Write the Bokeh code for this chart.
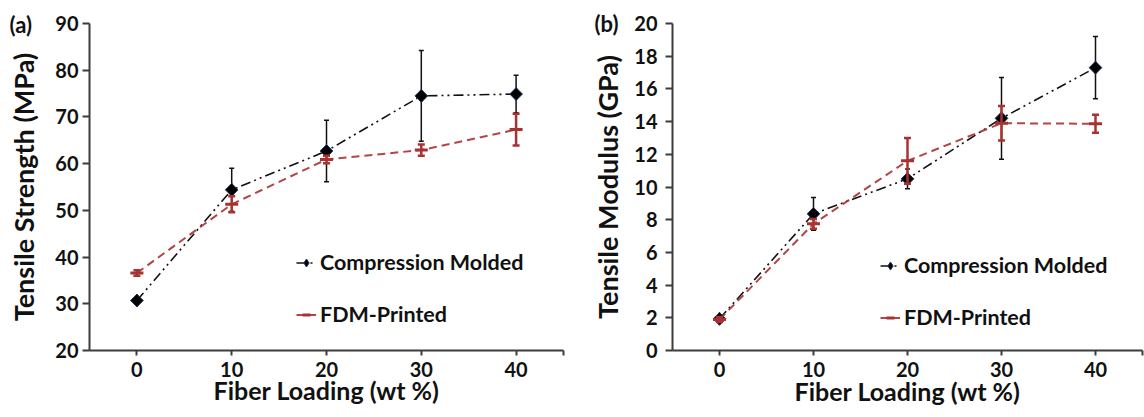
import numpy as np
from bokeh.plotting import figure
from bokeh.models import (Range1d, FixedTicker, ColumnDataSource, Legend, LegendItem, Title)
from bokeh.layouts import row
from bokeh.embed import file_html
from bokeh.resources import INLINE

# ---------------- data ----------------
fiber = [0, 10, 20, 30, 40]

cm_strength = [30.7, 54.4, 62.7, 74.5, 74.9]
cm_strength_err = [0.5, 4.6, 6.6, 9.7, 4.0]
fdm_strength = [36.6, 51.3, 60.9, 62.9, 67.3]
fdm_strength_err = [0.6, 1.7, 0.8, 1.2, 3.4]

cm_modulus = [1.94, 8.36, 10.5, 14.2, 17.3]
cm_modulus_err = [0.2, 1.0, 0.6, 2.5, 1.9]
fdm_modulus = [1.9, 7.75, 11.6, 13.9, 13.87]
fdm_modulus_err = [0.15, 0.3, 1.4, 1.05, 0.55]

x_ticks = [0, 10, 20, 30, 40, 45]
strength_ticks = [20, 30, 40, 50, 60, 70, 80, 90]
modulus_ticks = [0, 2, 4, 6, 8, 10, 12, 14, 16, 18, 20]

series_names = ["Compression Molded", "FDM-Printed"]
panel_tags = ["(a)", "(b)"]
y_titles = ["Tensile Strength (MPa)", "Tensile Modulus (GPa)"]
x_title = "Fiber Loading (wt %)"

FONT = "Lato"
TXT = "#111111"
AX = "#3c3c3c"
CM_COL = "#111111"
FDM_COL = "#A83232"


def make_panel(cm_y, cm_e, fdm_y, fdm_e, y_ticks, ytitle, tag, width,
               b_left, b_right, b_top, b_bottom, label_standoff, ytitle_standoff,
               xlabel_standoff, xtitle_standoff, tag_dx, tag_standoff, legend_loc):
    y_lo, y_hi = y_ticks[0], y_ticks[-1]
    p = figure(width=width, height=417, x_range=Range1d(-5, 45),
               y_range=Range1d(y_lo, y_hi), output_backend="svg",
               toolbar_location=None, min_border_left=b_left,
               min_border_right=b_right, min_border_top=b_top,
               min_border_bottom=b_bottom)
    p.outline_line_color = None
    p.xgrid.visible = False
    p.ygrid.visible = False
    p.background_fill_color = None
    p.border_fill_color = None

    for ax in (p.xaxis[0], p.yaxis[0]):
        ax.axis_line_color = AX
        ax.axis_line_width = 2
        ax.major_tick_line_color = AX
        ax.major_tick_line_width = 2
        ax.minor_tick_line_color = None
        ax.major_tick_in = 0
        ax.major_label_text_font = FONT
        ax.major_label_text_font_style = "bold"
        ax.major_label_text_font_size = "20px"
        ax.major_label_text_color = TXT
        ax.axis_label_text_font = FONT
        ax.axis_label_text_font_style = "bold"
        ax.axis_label_text_color = TXT
    p.xaxis.ticker = FixedTicker(ticks=x_ticks)
    p.xaxis.major_label_overrides = {45: ""}
    p.xaxis.major_tick_out = 5
    p.xaxis.major_label_standoff = xlabel_standoff
    p.xaxis.axis_label = x_title
    p.xaxis.axis_label_text_font_size = "25px"
    p.xaxis.axis_label_standoff = xtitle_standoff
    p.yaxis.ticker = FixedTicker(ticks=y_ticks)
    p.yaxis.major_tick_out = 7
    p.yaxis.major_label_standoff = label_standoff
    p.yaxis.axis_label = ytitle
    p.yaxis.axis_label_text_font_size = "27px"
    p.yaxis.axis_label_standoff = ytitle_standoff

    cm_src = ColumnDataSource(dict(x=fiber, y=cm_y,
                                   lo=[v - e for v, e in zip(cm_y, cm_e)],
                                   hi=[v + e for v, e in zip(cm_y, cm_e)]))
    fdm_src = ColumnDataSource(dict(x=fiber, y=fdm_y,
                                    lo=[v - e for v, e in zip(fdm_y, fdm_e)],
                                    hi=[v + e for v, e in zip(fdm_y, fdm_e)]))

    cm_line = p.line("x", "y", source=cm_src, line_color=CM_COL, line_width=1.6,
                     line_dash="10 4 2 4 2 4")
    fdm_line = p.line("x", "y", source=fdm_src, line_color=FDM_COL, line_width=2,
                      line_dash="8 5", line_alpha=0.9)

    p.segment("x", "lo", "x", "hi", source=cm_src, line_color=CM_COL, line_width=1.5)
    p.scatter("x", "hi", source=cm_src, marker="dash", size=5, line_color=CM_COL, line_width=1.5)
    p.scatter("x", "lo", source=cm_src, marker="dash", size=5, line_color=CM_COL, line_width=1.5)
    # diamond used for the legend swatch (hidden beneath the data markers)
    cm_key = p.scatter("x", "y", source=cm_src, marker="diamond", size=13,
                       fill_color="#000000", line_color="#22335e", line_width=1)
    p.scatter("x", "y", source=cm_src, marker="square", angle=np.pi / 4,
              size=9, fill_color="#000000", line_color="#22335e", line_width=1)

    p.segment("x", "lo", "x", "hi", source=fdm_src, line_color=FDM_COL, line_width=2.5)
    p.scatter("x", "hi", source=fdm_src, marker="dash", size=7, line_color=FDM_COL, line_width=2.5)
    p.scatter("x", "lo", source=fdm_src, marker="dash", size=7, line_color=FDM_COL, line_width=2.5)
    fdm_mark = p.scatter("x", "y", source=fdm_src, marker="dash", size=13,
                         line_color=FDM_COL, line_width=3)

    legend = Legend(items=[LegendItem(label=series_names[0], renderers=[cm_line, cm_key]),
                           LegendItem(label=series_names[1], renderers=[fdm_line, fdm_mark])],
                    location=legend_loc, padding=0, margin=0, spacing=26,
                    glyph_width=20, glyph_height=23, label_height=23,
                    label_standoff=4, border_line_color=None,
                    background_fill_alpha=0,
                    label_text_font=FONT, label_text_font_style="bold",
                    label_text_font_size="21.5px", label_text_color=TXT)
    p.add_layout(legend, "center")

    p.add_layout(Title(text=tag, align="left", offset=tag_dx, standoff=tag_standoff,
                       vertical_align="bottom", text_font=FONT, text_font_style="bold",
                       text_font_size="22px", text_color=TXT), "above")
    return p


pa = make_panel(cm_strength, cm_strength_err, fdm_strength, fdm_strength_err,
                strength_ticks, y_titles[0], panel_tags[0], width=586,
                b_left=89, b_right=23, b_top=22, b_bottom=66, label_standoff=4,
                ytitle_standoff=12, xlabel_standoff=6, xtitle_standoff=-5,
                tag_dx=-80, tag_standoff=-28, legend_loc=(207, 23))
pb = make_panel(cm_modulus, cm_modulus_err, fdm_modulus, fdm_modulus_err,
                modulus_ticks, y_titles[1], panel_tags[1], width=558,
                b_left=86, b_right=2, b_top=23, b_bottom=67, label_standoff=8,
                ytitle_standoff=7, xlabel_standoff=6, xtitle_standoff=-4,
                tag_dx=-78, tag_standoff=-27, legend_loc=(208, 20))

layout = row(pa, pb)
open("out.html", "w").write(file_html(layout, INLINE))
